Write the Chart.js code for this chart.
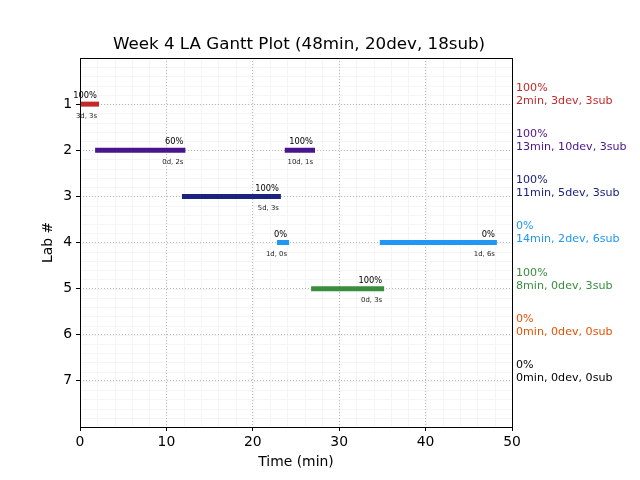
<!DOCTYPE html>
<html>
<head>
<meta charset="utf-8">
<script src="https://cdn.jsdelivr.net/npm/chart.js@4"></script>
<style>
  html, body { margin: 0; padding: 0; background: #fff; }
  #wrap { width: 640px; height: 480px; }
</style>
</head>
<body>
<div id="wrap"><canvas id="c" width="640" height="480"></canvas></div>
<script>
const chartTitle = 'Week 4 LA Gantt Plot (48min, 20dev, 18sub)';
const labs = [1, 2, 3, 4, 5, 6, 7];
const labColors = ['#c62828', '#4a148c', '#1a237e', '#2196f3', '#388e3c', '#e65100', '#000000'];
const labPct = ['100%', '100%', '100%', '0%', '100%', '0%', '0%'];
const labSummary = ['2min, 3dev, 3sub', '13min, 10dev, 3sub', '11min, 5dev, 3sub', '14min, 2dev, 6sub',
                    '8min, 0dev, 3sub', '0min, 0dev, 0sub', '0min, 0dev, 0sub'];
const segLab = [1, 2, 2, 3, 4, 4, 5];
const segStart = [0, 1.75, 23.7, 11.8, 22.8, 34.7, 26.75];
const segEnd = [2.2, 12.2, 27.2, 23.25, 24.2, 48.25, 35.2];
const segPct = ['100%', '60%', '100%', '100%', '0%', '0%', '100%'];
const segDetail = ['3d, 3s', '0d, 2s', '10d, 1s', '5d, 3s', '1d, 0s', '1d, 6s', '0d, 3s'];
const xTicks = [0, 10, 20, 30, 40, 50];

const FONT = 'DejaVu Sans';

const datasets = segLab.map((lab, i) => ({
  data: [{x: segStart[i], y: lab}, {x: segEnd[i], y: lab}],
  borderColor: labColors[lab - 1],
  backgroundColor: labColors[lab - 1],
  borderWidth: 5,
  borderCapStyle: 'butt',
  showLine: true,
  pointRadius: 0,
  pointHoverRadius: 0
}));

const extras = {
  id: 'extras',
  beforeDraw(chart) {
    const {ctx, chartArea: a, scales: {x, y}} = chart;
    ctx.save();
    ctx.strokeStyle = '#f5f5f5';
    ctx.lineWidth = 1;
    for (let v = 0; v <= 50; v += 2) {
      const px = Math.round(x.getPixelForValue(v)) + 0.5;
      ctx.beginPath(); ctx.moveTo(px, a.top); ctx.lineTo(px, a.bottom); ctx.stroke();
    }
    for (let k = 0; k <= 40; k++) {
      const py = Math.round(y.getPixelForValue(k * 0.2)) + 0.5;
      ctx.beginPath(); ctx.moveTo(a.left, py); ctx.lineTo(a.right, py); ctx.stroke();
    }
    ctx.restore();
  },
  afterDraw(chart) {
    const {ctx, chartArea: a, scales: {x, y}} = chart;
    ctx.save();
    ctx.strokeStyle = '#000';
    ctx.lineWidth = 1;
    ctx.strokeRect(Math.round(a.left) + 0.5, Math.round(a.top) + 0.5,
                   Math.round(a.right - a.left), Math.round(a.bottom - a.top));
    ctx.fillStyle = '#000';
    ctx.font = '16.7px "' + FONT + '"';
    ctx.textAlign = 'center';
    ctx.textBaseline = 'middle';
    ctx.fillText(chartTitle, (a.left + a.right) / 2 + 3, 45);
    ctx.textAlign = 'right';
    segLab.forEach((lab, i) => {
      const px = x.getPixelForValue(segEnd[i]) - 2;
      const py = y.getPixelForValue(lab);
      ctx.fillStyle = '#000';
      ctx.font = '8.3px "' + FONT + '"';
      ctx.fillText(segPct[i], px, py - 8);
      ctx.fillStyle = '#222';
      ctx.font = '6.9px "' + FONT + '"';
      ctx.fillText(segDetail[i], px, py + 12);
    });
    ctx.textAlign = 'left';
    ctx.font = '11.1px "' + FONT + '"';
    labs.forEach((lab, i) => {
      const py = y.getPixelForValue(lab);
      ctx.fillStyle = labColors[i];
      ctx.fillText(labPct[i], a.right + 4, py - 16);
      ctx.fillText(labSummary[i], a.right + 4, py - 3);
    });
    ctx.restore();
  }
};

new Chart(document.getElementById('c'), {
  type: 'scatter',
  data: { datasets },
  options: {
    responsive: false,
    animation: false,
    layout: { padding: { left: 0, top: 58, right: 128, bottom: 0 } },
    plugins: { legend: { display: false }, tooltip: { enabled: false }, title: { display: false } },
    scales: {
      x: {
        type: 'linear', min: 0, max: 50,
        afterBuildTicks(s) { s.ticks = xTicks.map(v => ({value: v})); },
        afterFit(s) { s.height = 53; },
        ticks: { color: '#000', font: { family: FONT, size: 13.9 }, padding: 3, maxRotation: 0 },
        grid: { color: '#b8b8b8', lineWidth: 1, tickLength: 4, tickColor: '#000', tickBorderDash: [] },
        border: { display: false, dash: [1, 2] },
        title: { display: true, text: 'Time (min)', color: '#000', font: { family: FONT, size: 13.9 }, padding: { top: 0, bottom: 9 } }
      },
      y: {
        type: 'linear', min: 0, max: 8, reverse: true,
        afterBuildTicks(s) { s.ticks = labs.map(v => ({value: v})); },
        afterFit(s) { s.width = 80; },
        ticks: { color: '#000', font: { family: FONT, size: 13.9 }, padding: 4 },
        grid: { color: '#b8b8b8', lineWidth: 1, tickLength: 4, tickColor: '#000', tickBorderDash: [] },
        border: { display: false, dash: [1, 2] },
        title: { display: true, text: 'Lab #', color: '#000', font: { family: FONT, size: 13.9 }, padding: { top: 40, bottom: 0 } }
      }
    }
  },
  plugins: [extras]
});
</script>
</body>
</html>
